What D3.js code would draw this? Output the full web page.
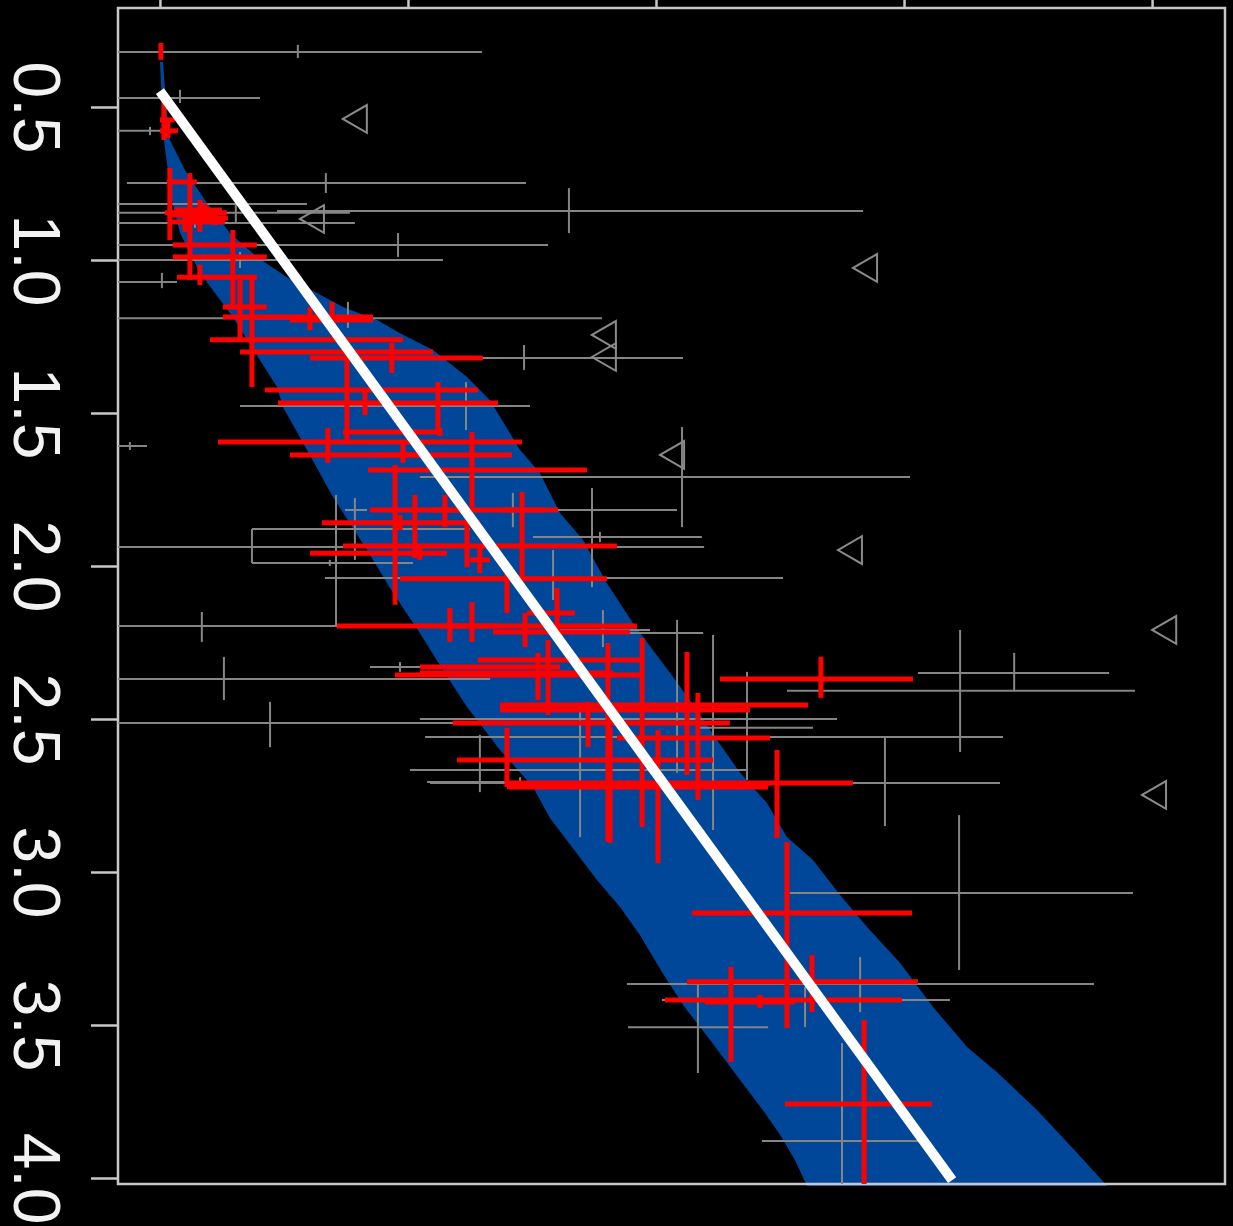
<!DOCTYPE html>
<html>
<head>
<meta charset="utf-8">
<script src="https://cdn.jsdelivr.net/npm/d3@7"></script>
<style>
  html, body { margin: 0; padding: 0; background: #000; }
  svg { display: block; }
</style>
</head>
<body>
<svg id="chart" width="1233" height="1226"></svg>
<script>
// Axis tick values
const yTicks = [0.5, 1.0, 1.5, 2.0, 2.5, 3.0, 3.5, 4.0];
const xTicks = [0, 1, 2, 3, 4];

// Measurements with error bars, each row: [x, xLow, xHigh, y, yLow, yHigh]
const greyPoints = [
  [0.556, -0.323, 1.298, 0.320, 0.297, 0.340],
  [0.081, -0.323, 0.403, 0.471, 0.444, 0.487],
  [-0.040, -0.323, 0.048, 0.578, 0.565, 0.592],
  [0.669, -0.133, 1.476, 0.748, 0.716, 0.781],
  [1.649, 0.472, 2.835, 0.840, 0.765, 0.912],
  [0.121, -0.323, 0.593, 0.817, 0.797, 0.837],
  [0.306, -0.323, 0.766, 0.846, 0.820, 0.876],
  [0.141, -0.323, 0.786, 0.879, 0.863, 0.895],
  [0.960, -0.323, 1.565, 0.951, 0.912, 0.990],
  [0.323, -0.323, 1.141, 1.000, 0.974, 1.026],
  [0.008, -0.323, 0.069, 1.072, 1.042, 1.092],
  [0.758, -0.323, 1.782, 1.190, 1.137, 1.222],
  [1.468, 0.968, 2.109, 1.320, 1.278, 1.359],
  [1.234, 0.323, 1.492, 1.477, 1.399, 1.556],
  [-0.121, -0.323, -0.052, 1.608, 1.595, 1.621],
  [2.105, 1.048, 3.024, 1.709, 1.546, 1.873],
  [1.742, 1.532, 2.085, 1.817, 1.745, 2.069],
  [1.774, 1.504, 2.185, 1.905, 1.889, 1.922],
  [0.710, -0.323, 2.194, 1.938, 1.768, 2.199],
  [0.169, -0.323, 0.714, 2.196, 2.150, 2.248],
  [0.371, 0.371, 1.250, 1.879, 1.879, 1.990],
  [0.685, 0.371, 1.020, 1.990, 1.980, 2.000],
  [0.786, 0.746, 0.835, 1.817, 1.778, 1.980],
  [1.423, 1.290, 1.532, 1.817, 1.761, 1.873],
  [1.585, 0.665, 2.512, 2.039, 1.948, 2.111],
  [1.786, 1.613, 1.976, 2.209, 2.144, 2.265],
  [0.258, -0.323, 1.331, 2.369, 2.297, 2.438],
  [0.444, -0.323, 1.210, 2.513, 2.444, 2.592],
  [0.968, 0.847, 1.089, 2.330, 2.314, 2.346],
  [1.290, 1.008, 2.371, 2.667, 2.552, 2.739],
  [1.452, 1.077, 1.774, 2.706, 2.690, 2.722],
  [2.230, 1.069, 3.399, 2.559, 2.225, 2.863],
  [2.085, 1.855, 2.190, 2.219, 2.176, 2.676],
  [2.367, 2.177, 2.633, 2.529, 2.346, 2.699],
  [1.694, 1.048, 2.730, 2.500, 2.448, 2.886],
  [3.444, 3.056, 3.827, 2.350, 2.284, 2.405],
  [3.226, 2.528, 3.931, 2.408, 2.209, 2.608],
  [2.923, 1.089, 3.387, 2.709, 2.562, 2.850],
  [3.222, 2.540, 3.923, 3.069, 2.814, 3.320],
  [2.823, 1.883, 3.766, 3.366, 3.278, 3.458],
  [2.601, 2.024, 3.185, 3.418, 3.376, 3.507],
  [2.169, 1.887, 2.452, 3.507, 3.363, 3.657],
  [2.750, 2.427, 3.056, 3.879, 3.559, 4.039]
];

const redPoints = [
  [0.004, -0.004, 0.012, 0.320, 0.291, 0.346],
  [0.016, 0.000, 0.060, 0.542, 0.477, 0.608],
  [0.032, 0.000, 0.073, 0.578, 0.549, 0.601],
  [0.040, 0.020, 0.270, 0.846, 0.699, 0.935],
  [0.121, 0.028, 0.149, 0.745, 0.716, 0.912],
  [0.161, 0.032, 0.234, 0.853, 0.804, 0.908],
  [0.101, 0.040, 0.262, 0.876, 0.843, 0.908],
  [0.181, 0.060, 0.250, 0.837, 0.814, 0.863],
  [0.222, 0.121, 0.274, 0.863, 0.843, 0.886],
  [0.121, 0.052, 0.391, 0.951, 0.902, 1.065],
  [0.294, 0.052, 0.431, 0.990, 0.902, 1.154],
  [0.161, 0.069, 0.391, 1.056, 1.016, 1.082],
  [0.323, 0.254, 0.431, 1.154, 1.065, 1.261],
  [0.605, 0.254, 0.859, 1.186, 1.154, 1.229],
  [0.694, 0.524, 0.859, 1.196, 1.137, 1.219],
  [0.371, 0.202, 0.980, 1.261, 1.056, 1.415],
  [0.935, 0.323, 1.101, 1.301, 1.271, 1.369],
  [0.754, 0.605, 1.302, 1.320, 1.294, 1.588],
  [1.121, 0.423, 1.282, 1.425, 1.399, 1.565],
  [1.129, 0.738, 1.129, 1.562, 1.549, 1.575],
  [0.827, 0.476, 1.363, 1.467, 1.425, 1.507],
  [0.677, 0.234, 1.460, 1.595, 1.549, 1.663],
  [1.258, 0.524, 1.419, 1.637, 1.562, 1.807],
  [0.980, 0.887, 1.089, 1.637, 1.588, 1.663],
  [0.948, 0.839, 1.722, 1.686, 1.670, 2.127],
  [1.028, 0.847, 1.605, 1.817, 1.768, 1.974],
  [1.149, 1.089, 1.210, 1.817, 1.768, 1.873],
  [1.460, 1.371, 1.552, 1.817, 1.758, 2.036],
  [0.968, 0.653, 1.290, 1.859, 1.834, 1.883],
  [1.238, 0.738, 1.843, 1.935, 1.859, 2.004],
  [1.048, 0.605, 1.157, 1.958, 1.932, 1.980],
  [1.290, 1.250, 1.331, 1.980, 1.938, 2.023],
  [1.399, 0.968, 1.802, 2.042, 1.997, 2.154],
  [1.601, 1.480, 1.673, 2.154, 2.072, 2.219],
  [1.169, 0.714, 1.923, 2.196, 2.137, 2.248],
  [1.258, 1.129, 1.371, 2.196, 2.118, 2.248],
  [1.472, 1.343, 1.895, 2.216, 2.154, 2.265],
  [1.944, 1.282, 1.944, 2.307, 2.235, 2.853],
  [1.524, 1.048, 1.827, 2.350, 2.284, 2.438],
  [1.565, 1.048, 1.613, 2.330, 2.242, 2.487],
  [1.806, 0.948, 1.935, 2.356, 2.252, 2.902],
  [2.665, 2.258, 3.036, 2.369, 2.297, 2.431],
  [2.125, 1.371, 2.613, 2.454, 2.281, 2.683],
  [2.169, 1.371, 2.379, 2.471, 2.415, 2.765],
  [1.726, 1.181, 2.298, 2.513, 2.444, 2.592],
  [2.008, 1.843, 2.460, 2.562, 2.536, 2.971],
  [1.815, 1.198, 2.230, 2.634, 2.526, 2.905],
  [1.399, 1.399, 2.452, 2.722, 2.529, 2.722],
  [2.488, 1.391, 2.794, 2.709, 2.601, 2.889],
  [2.528, 2.145, 3.032, 3.134, 2.902, 3.510],
  [2.629, 2.125, 3.056, 3.359, 3.271, 3.458],
  [2.302, 2.036, 2.992, 3.418, 3.310, 3.621],
  [2.419, 2.198, 2.560, 3.425, 3.402, 3.444],
  [2.839, 2.520, 3.113, 3.758, 3.484, 4.023]
];

// Limits drawn as open triangles: [x, y]
const limitPoints = [
  [0.802, 0.539], [0.629, 0.866], [1.806, 1.245], [1.806, 1.317],
  [2.081, 1.637], [2.859, 1.026], [2.798, 1.948], [4.065, 2.209],
  [4.024, 2.748]
];

// Model envelope: right-hand and left-hand edges, [x, y] from top to bottom
const bandRight = [
  [0.012, 0.353], [0.024, 0.477], [0.040, 0.608], [0.101, 0.706], [0.181, 0.804],
  [0.282, 0.912], [0.391, 0.990], [0.512, 1.056], [0.633, 1.108], [0.738, 1.154],
  [0.875, 1.196], [0.968, 1.239], [1.101, 1.294], [1.238, 1.382], [1.331, 1.458],
  [1.391, 1.539], [1.452, 1.621], [1.532, 1.696], [1.613, 1.827], [1.706, 1.915],
  [1.802, 2.056], [1.907, 2.186], [1.988, 2.275], [2.069, 2.363], [2.165, 2.471],
  [2.246, 2.569], [2.339, 2.676], [2.448, 2.775], [2.528, 2.886], [2.633, 2.961],
  [2.742, 3.075], [2.851, 3.180], [2.984, 3.297], [3.117, 3.441], [3.254, 3.572],
  [3.375, 3.654], [3.536, 3.778], [3.698, 3.918], [3.819, 4.026]
];
const bandLeft = [
  [0.000, 0.353], [0.008, 0.477], [0.016, 0.608], [0.048, 0.804], [0.081, 0.912],
  [0.161, 1.042], [0.294, 1.186], [0.403, 1.327], [0.472, 1.415], [0.496, 1.480],
  [0.593, 1.621], [0.698, 1.775], [0.835, 1.948], [0.940, 2.088], [1.048, 2.219],
  [1.129, 2.324], [1.238, 2.461], [1.371, 2.601], [1.504, 2.722], [1.573, 2.824],
  [1.665, 2.922], [1.762, 3.026], [1.855, 3.114], [1.935, 3.206], [2.024, 3.327],
  [2.109, 3.435], [2.218, 3.549], [2.339, 3.680], [2.440, 3.788], [2.500, 3.859],
  [2.560, 3.941], [2.609, 4.026]
];

// Best-fit relation, end points [x, y]
const fitLine = [[0, 0.448], [3.194, 4.007]];

const svg = d3.select("#chart");
const W = 1233, H = 1226;
const box = { left: 118, right: 1225, top: 8, bottom: 1184 };

svg.append("rect").attr("width", W).attr("height", H).attr("fill", "#000");

const x = d3.scaleLinear().domain([-0.169, 4.294]).range([box.left, box.right]);
const y = d3.scaleLinear().domain([0.1765, 4.0196]).range([box.top, box.bottom]);

svg.append("defs").append("clipPath").attr("id", "plotClip")
  .append("rect")
  .attr("x", box.left).attr("y", box.top)
  .attr("width", box.right - box.left).attr("height", box.bottom - box.top);

// Envelope
const pathGen = d3.line().x(d => x(d[0])).y(d => y(d[1]));
const bandPoly = bandRight.concat(bandLeft.slice().reverse());
svg.append("path")
  .attr("d", pathGen(bandPoly) + "Z")
  .attr("fill", "#00479a");

// Frame
svg.append("rect")
  .attr("x", box.left).attr("y", box.top)
  .attr("width", box.right - box.left).attr("height", box.bottom - box.top)
  .attr("fill", "none").attr("stroke", "#c8c8c8").attr("stroke-width", 2.5);

// Top ticks (no labels)
const topAxis = svg.append("g")
  .attr("transform", `translate(0,${box.top})`)
  .call(d3.axisTop(x).tickValues(xTicks).tickFormat("").tickSize(28).tickSizeOuter(0));
topAxis.select(".domain").remove();
topAxis.selectAll("line").attr("stroke", "#c8c8c8").attr("stroke-width", 2.5);

// Left axis with labels turned to read downwards
const leftAxis = svg.append("g")
  .attr("transform", `translate(${box.left},0)`)
  .call(d3.axisLeft(y).tickValues(yTicks).tickSize(27).tickSizeOuter(0).tickFormat(d3.format(".1f")));
leftAxis.select(".domain").remove();
leftAxis.selectAll("line").attr("stroke", "#c8c8c8").attr("stroke-width", 2.5);
leftAxis.selectAll("text")
  .attr("x", 0).attr("dy", 0)
  .attr("text-anchor", "middle")
  .attr("transform", `translate(${14 - box.left},0) rotate(90)`)
  .attr("fill", "#f2f2f2")
  .style("font-family", "'Liberation Sans', Arial, Helvetica, sans-serif")
  .style("font-size", "66px");

const plot = svg.append("g").attr("clip-path", "url(#plotClip)");

function drawCrosses(data, color, width) {
  const g = plot.append("g").attr("stroke", color).attr("stroke-width", width).attr("fill", "none");
  g.selectAll("line.h").data(data).join("line").attr("class", "h")
    .attr("x1", d => x(d[1])).attr("x2", d => x(d[2]))
    .attr("y1", d => y(d[3])).attr("y2", d => y(d[3]));
  g.selectAll("line.v").data(data).join("line").attr("class", "v")
    .attr("x1", d => x(d[0])).attr("x2", d => x(d[0]))
    .attr("y1", d => y(d[4])).attr("y2", d => y(d[5]));
}

drawCrosses(greyPoints, "#858585", 2);

// Open left-pointing triangles
const tri = d3.symbol().type(d3.symbolTriangle).size(333);
plot.append("g").selectAll("path").data(limitPoints).join("path")
  .attr("d", tri)
  .attr("transform", d => `translate(${x(d[0])},${y(d[1])}) rotate(-90)`)
  .attr("fill", "none").attr("stroke", "#8a8a8a").attr("stroke-width", 2);

drawCrosses(redPoints, "#ff0000", 5);

// Fit line
svg.append("line")
  .attr("x1", x(fitLine[0][0])).attr("y1", y(fitLine[0][1]))
  .attr("x2", x(fitLine[1][0])).attr("y2", y(fitLine[1][1]))
  .attr("stroke", "#ffffff").attr("stroke-width", 10);
</script>
</body>
</html>
